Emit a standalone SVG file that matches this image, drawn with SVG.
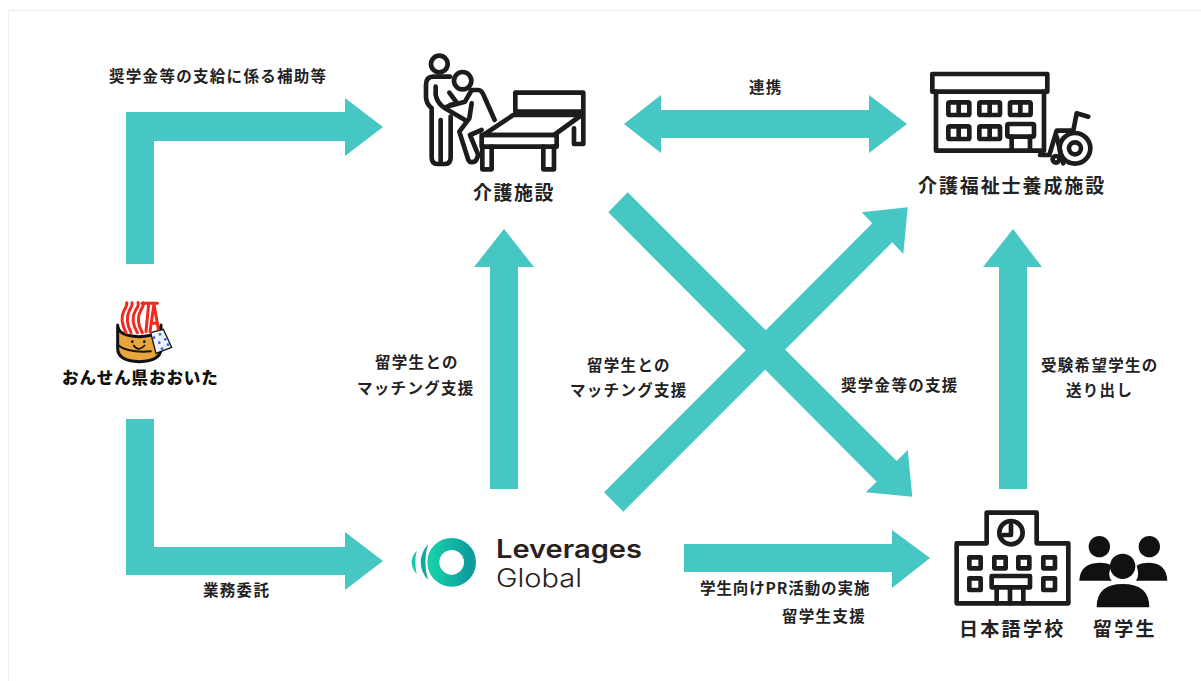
<svg xmlns="http://www.w3.org/2000/svg" width="1201" height="681" viewBox="0 0 1201 681">
<style>
text{font-family:"Noto Sans CJK JP","Noto Sans",sans-serif;fill:#222}
.l{font-size:15.500px;font-weight:700;letter-spacing:1.3px}
.n{font-size:19px;font-weight:700;letter-spacing:1.500px}
.a{fill:#47c7c4}
.i{fill:none;stroke:#1c1c1c;stroke-width:14;stroke-linejoin:round;stroke-linecap:round}
.b{fill:#111}
</style>
<defs>
<linearGradient id="lg" x1="0" x2="1"><stop offset="0" stop-color="#17cdaa"/><stop offset="1" stop-color="#0e9c9f"/></linearGradient>
</defs>
<rect width="1201" height="681" fill="#fff"/>
<path d="M8.500,681V10.500H1201" fill="none" stroke="#ececec"/>
<g id="connectors">
<polygon class="a" points="126,264 126,112 345,112 345,98 383,127 345,156 345,141 154,141 154,264"/>
<polygon class="a" points="126,419 154,419 154,547 345,547 345,532 383,561 345,590 345,575 126,575"/>
<polygon class="a" points="624,124 661,95 661,110 869,110 869,95 907,124 869,153 869,138 661,138 661,153"/>
<polygon class="a" points="490,489 490,267 474,267 504,229 534,267 518,267 518,489"/>
<polygon class="a" points="999,489 999,267 983,267 1013,229 1042,267 1027,267 1027,489"/>
<polygon class="a" points="684,544 892,544 892,530 930,558 892,588 892,572 684,572"/>
<polygon class="a" points="627.700,192.300 608.300,212.300 876.700,481.700 865.700,492.300 912.300,496.700 907.700,450 896.700,461"/>
<polygon class="a" points="604,492.300 623.300,511.700 892.300,242.300 903.300,254 907.700,207.300 861.700,212.300 872.300,223.300"/>
</g>
<g id="onsen">
<rect x="63" y="300" width="154" height="90" fill="#fffffd"/>
<g transform="translate(50,290) scale(.3333)">
<path d="M203,105V175Q203,214 268,215Q333,214 333,175V105Q333,138 268,140Q203,138 203,105Z" fill="#e8a53c" stroke="#111" stroke-width="9" stroke-linejoin="round"/>
<path d="M203,165Q235,190 305,184" fill="none" stroke="#111" stroke-width="6"/>
<path d="M250,165Q265,188 285,165" fill="none" stroke="#111" stroke-width="5"/>
<circle cx="247" cy="155" r="4" fill="#111"/><circle cx="283" cy="155" r="4" fill="#111"/>
<path d="M302,128L340,118L365,172L318,190Z" fill="#eef2fa" stroke="#111" stroke-width="4"/>
<g fill="#2a66e0"><circle cx="312" cy="143" r="4"/><circle cx="330" cy="133" r="4"/><circle cx="328" cy="158" r="4"/><circle cx="346" cy="148" r="4"/><circle cx="336" cy="176" r="4"/><circle cx="354" cy="164" r="4"/></g>
<g fill="none" stroke="#f02a22" stroke-width="9" stroke-linecap="round">
<path d="M228,128Q208,90 222,62Q232,46 230,38"/>
<path d="M243,128Q224,90 238,62Q248,46 246,38"/>
<path d="M262,128Q240,90 256,62Q268,46 264,38"/>
<path d="M277,128Q256,90 272,62Q282,46 280,38"/>
<path d="M288,125L296,42"/><path d="M276,40H322"/>
<path d="M300,125L312,42L325,118"/><path d="M306,100H322"/>
</g>
</g>
<text x="62" y="384" style="font-size:16.500px;font-weight:900;letter-spacing:.9px;fill:#111">おんせん県おおいた</text>
</g>
<g id="kaigo">
<g class="i" transform="translate(400,40) scale(.3333)">
<circle cx="118" cy="72" r="25"/>
<circle cx="188" cy="122" r="26"/>
<path d="M150,110H100Q78,110 78,135V170Q78,190 95,205V352Q95,372 112,372H135Q152,372 152,352V230"/>
<path d="M122,240V365"/>
<path d="M107,140V165Q112,190 135,205L195,240"/>
<path d="M148,158L172,190L150,195"/>
<path d="M140,200L195,185L215,150H235Q245,150 252,168L284,240"/>
<path d="M215,190L208,235L178,275L205,360Q212,372 228,362L235,345L210,285L245,270"/>
<rect x="346" y="158" width="204" height="57"/>
<path d="M250,285L340,225H545L462,285Z"/>
<rect x="245" y="285" width="225" height="35"/>
<path d="M247,320V388H275V320M430,320V388H462V320M522,265V312H550V220"/>
</g>
<text class="n" x="473" y="200">介護施設</text>
</g>
<g id="yosei">
<g class="i" transform="translate(900,50) scale(.3333)">
<rect x="97" y="72" width="345" height="53"/>
<path d="M108,125V302H432V125"/>
<rect x="145" y="157" width="63" height="38" rx="4"/><rect x="238" y="157" width="62" height="38" rx="4"/><rect x="330" y="157" width="62" height="38" rx="4"/>
<rect x="145" y="229" width="63" height="38" rx="4"/><rect x="238" y="229" width="62" height="38" rx="4"/>
<path d="M176,157V195M269,157V195M361,157V195M176,229V267M269,229V267"/>
<rect x="322" y="222" width="80" height="38" rx="4"/>
<path d="M335,260V302M390,260V302"/>
<circle cx="525" cy="295" r="46"/><circle cx="525" cy="295" r="18"/>
<circle cx="468" cy="328" r="10"/>
<path d="M565,200L530,190L520,242H470L448,315H420"/>
<path d="M470,260L490,340"/>
</g>
<text class="n" x="918" y="193" style="letter-spacing:1.900px">介護福祉士養成施設</text>
</g>
<g id="leverages">
<g transform="translate(400,520) scale(.3333)">
<circle cx="155" cy="127" r="55" fill="none" stroke="url(#lg)" stroke-width="36"/>
<path d="M84,72Q40,127 84,181Q68,127 84,72Z" fill="#0fa9a3"/>
<path d="M50,92Q20,127 50,162Q42,127 50,92Z" fill="#17c8ab"/>
</g>
<text x="496" y="558" style="font-family:Inter,sans-serif;font-size:25px;font-weight:600;fill:#2a2020" textLength="146" lengthAdjust="spacingAndGlyphs">Leverages</text>
<text x="496" y="586.500" style="font-family:Inter,sans-serif;font-size:25px;font-weight:300;fill:#2a2020" textLength="86" lengthAdjust="spacingAndGlyphs">Global</text>
</g>
<g id="school">
<g class="i" transform="translate(940,500) scale(.3333)">
<path d="M50,310V130H140V38H290V130H385V310Z"/>
<circle cx="213" cy="98" r="35"/>
<path d="M213,75V105H190"/>
<rect x="88" y="172" width="34" height="33"/><rect x="163" y="172" width="34" height="33"/><rect x="235" y="172" width="33" height="33"/><rect x="310" y="172" width="35" height="33"/>
<rect x="88" y="235" width="34" height="35"/><rect x="310" y="235" width="35" height="35"/>
<rect x="155" y="228" width="115" height="34"/>
<path d="M170,262V310M210,262V310M250,262V310"/>
</g>
<text class="n" x="959" y="636" style="letter-spacing:2.300px">日本語学校</text>
</g>
<g id="students">
<g class="b" transform="translate(940,500) scale(.3333)">
<circle cx="478" cy="140" r="32"/><circle cx="628" cy="140" r="32"/>
<path d="M418,242Q420,190 478,188Q505,188 515,198Q500,225 515,242Z"/>
<path d="M682,242Q680,190 628,188Q600,188 590,198Q600,225 588,242Z"/>
<circle cx="548" cy="199" r="38"/>
<path d="M470,322Q470,252 548,252Q628,252 628,322Z"/>
</g>
<text class="n" x="1093" y="636" style="letter-spacing:2.300px">留学生</text>
</g>
<g id="labels">
<text class="l" x="109" y="82">奨学金等の支給に係る補助等</text>
<text class="l" x="749" y="93">連携</text>
<text class="l" x="375" y="368">留学生との</text>
<text class="l" x="357" y="394">マッチング支援</text>
<text class="l" x="587" y="371">留学生との</text>
<text class="l" x="570" y="396">マッチング支援</text>
<text class="l" x="841" y="391">奨学金等の支援</text>
<text class="l" x="1041" y="371">受験希望学生の</text>
<text class="l" x="1066" y="396">送り出し</text>
<text class="l" x="700" y="594" style="letter-spacing:.9px">学生向けPR活動の実施</text>
<text class="l" x="782" y="622">留学生支援</text>
<text class="l" x="203" y="596">業務委託</text>
</g>
</svg>
